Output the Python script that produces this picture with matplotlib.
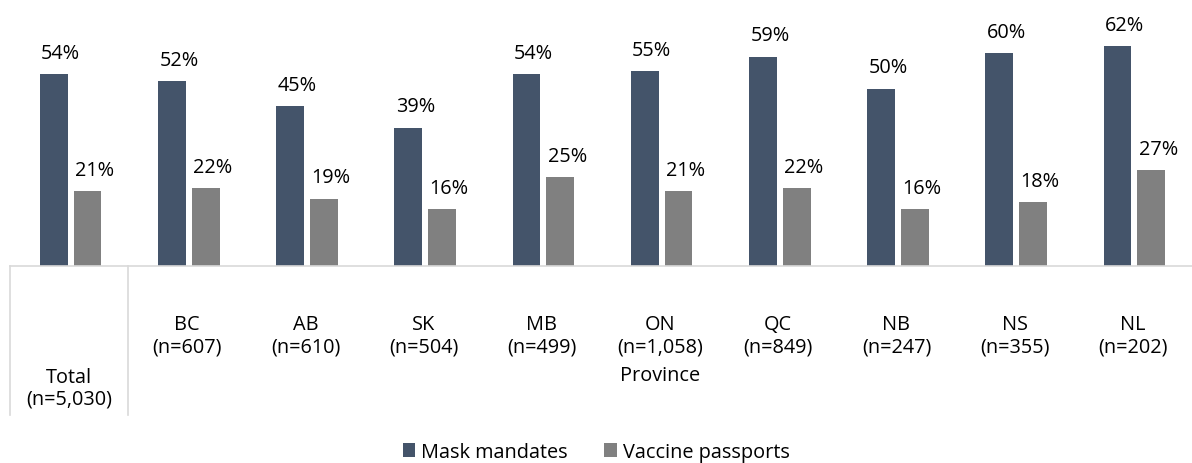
import numpy as np
import matplotlib.pyplot as plt

plt.rcParams['font.family'] = ['Open Sans', 'DejaVu Sans']

cats = ['Total', 'BC', 'AB', 'SK', 'MB', 'ON', 'QC', 'NB', 'NS', 'NL']
ns = ['5,030', '607', '610', '504', '499', '1,058', '849', '247', '355', '202']
mask = [54, 52, 45, 39, 54, 55, 59, 50, 60, 62]
vacc = [21, 22, 19, 16, 25, 21, 22, 16, 18, 27]

c_mask = '#44546A'
c_vacc = '#808080'
fs = 14.3

fig = plt.figure(figsize=(11.92, 4.64), dpi=100)
ax = fig.add_axes([10/1192, 1 - 267/464, 1182/1192, 248.5/464])

x = np.arange(len(cats))
w = 0.235
b1 = ax.bar(x - 0.13, mask, w, color=c_mask, label='Mask mandates')
b2 = ax.bar(x + 0.155, vacc, w, color=c_vacc, label='Vaccine passports')
for bars, vals in [(b1, mask), (b2, vacc)]:
    for r, v in zip(bars, vals):
        ax.annotate(f'{v}%', (r.get_x() + r.get_width()/2, v), xytext=(5, 8),
                    textcoords='offset points', ha='center', va='bottom', fontsize=fs)

ax.set_xlim(-0.5, len(cats) - 0.5)
ax.set_ylim(0, 70)
ax.set_yticks([])
ax.set_xticks([])
for s in ['top', 'right', 'left']:
    ax.spines[s].set_visible(False)
ax.spines['bottom'].set_color('#d9d9d9')
ax.spines['bottom'].set_linewidth(1.2)

# category table under the axis
tr = ax.get_xaxis_transform()
for i in range(1, len(cats)):
    ax.text(x[i], -0.28, f'{cats[i]}\n(n={ns[i]})', transform=tr, ha='center', va='center',
            fontsize=fs, linespacing=1.15, clip_on=False)
ax.text(x[0], -0.49, f'{cats[0]}\n(n={ns[0]})', transform=tr, ha='center', va='center',
        fontsize=fs, linespacing=1.15, clip_on=False)
ax.text((x[1] + x[-1]) / 2, -0.44, 'Province', transform=tr, ha='center', va='center',
        fontsize=fs, clip_on=False)
for xv in [-0.5, 0.5]:
    ax.plot([xv, xv], [0, -0.6], transform=tr, color='#d9d9d9', lw=1.2, clip_on=False)

fig.legend(loc='center', bbox_to_anchor=(0.5, 1 - 453/464), ncol=2, frameon=False,
           fontsize=fs, handlelength=0.65, handleheight=0.65, handletextpad=0.3,
           columnspacing=1.8)

fig.savefig('out.png', dpi=100)
